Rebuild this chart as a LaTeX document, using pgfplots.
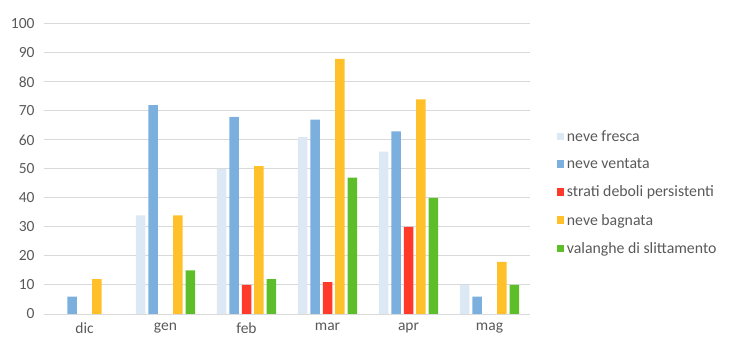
\documentclass[border=0pt]{standalone}
\usepackage{pgfplots}
\pgfplotsset{compat=1.18}
\usepackage{fontspec}
\setmainfont{Carlito}
\definecolor{cFresca}{HTML}{DCE8F4}
\definecolor{cVentata}{HTML}{7BB0DE}
\definecolor{cStrati}{HTML}{FF3A2A}
\definecolor{cBagnata}{HTML}{FFC02A}
\definecolor{cValanghe}{HTML}{5EBE2A}
\definecolor{cGrid}{HTML}{D9D9D9}
\definecolor{cText}{HTML}{595959}
\begin{document}
\begin{tikzpicture}
\useasboundingbox (0,0) rectangle (735bp,360bp);
\begin{axis}[
  at={(44bp,46bp)}, anchor=south west,
  scale only axis, width=486bp, height=290bp,
  ybar, bar width=9.5bp,
  xmin=-0.5, xmax=5.5, ymin=0, ymax=100,
  ytick={0,10,...,100},
  xtick={0,1,2,3,4,5},
  xticklabels={dic,gen,feb,mar,apr,mag},
  axis line style={draw=none},
  major tick length=0pt,
  ymajorgrids, grid style={cGrid, line width=1bp},
  tick label style={font=\fontsize{15.5bp}{18bp}\selectfont, text=cText},
  /pgf/number format/assume math mode=true,
  yticklabel style={xshift=-6bp},
  xticklabel style={yshift=-5bp},
  legend style={draw=none, fill=none, at={(1.055,0.64)}, anchor=north west,
    font=\fontsize{15.8bp}{18bp}\selectfont, text=cText, row sep=11.8bp,
    inner sep=0pt, nodes={inner xsep=2.5bp}},
  legend cell align=left,
  legend image code/.code={\fill[#1] (0bp,-3.5bp) rectangle (7.5bp,4bp);},
  every axis plot/.append style={draw=none},
]
\addplot[fill=cFresca, bar shift=-24.8bp] coordinates {(0,0) (1,34) (2,50) (3,61) (4,56) (5,10)};
\addplot[fill=cVentata, bar shift=-12.4bp] coordinates {(0,6) (1,72) (2,68) (3,67) (4,63) (5,6)};
\addplot[fill=cStrati, bar shift=0bp] coordinates {(0,0) (1,0) (2,10) (3,11) (4,30) (5,0)};
\addplot[fill=cBagnata, bar shift=12.4bp] coordinates {(0,12) (1,34) (2,51) (3,88) (4,74) (5,18)};
\addplot[fill=cValanghe, bar shift=24.8bp] coordinates {(0,0) (1,15) (2,12) (3,47) (4,40) (5,10)};
\legend{neve fresca, neve ventata, strati deboli persistenti, neve bagnata, valanghe di slittamento}
\end{axis}
\end{tikzpicture}
\end{document}
